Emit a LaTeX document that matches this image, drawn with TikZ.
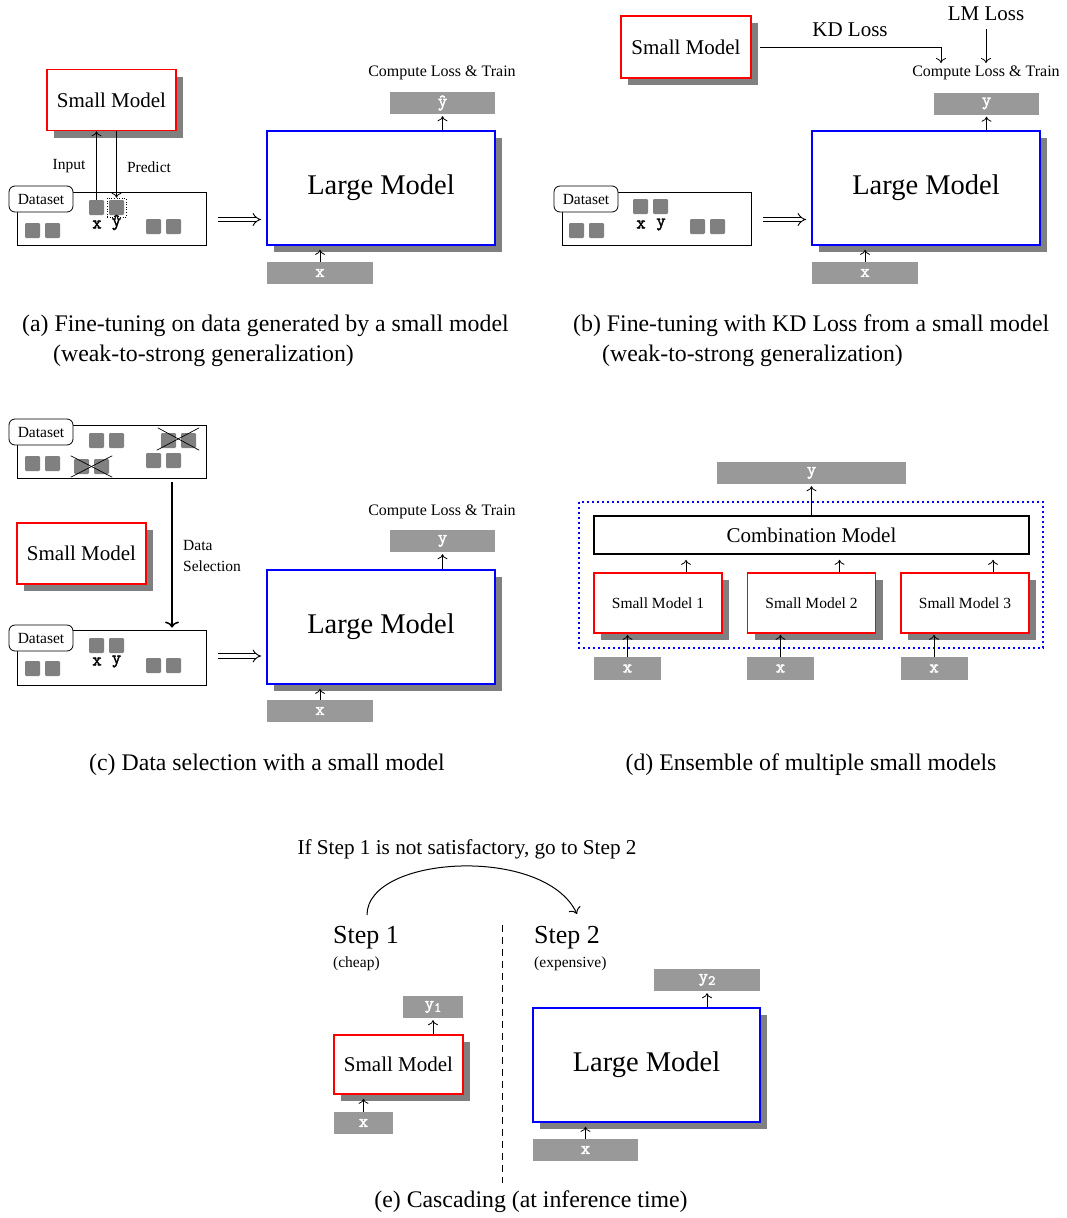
\documentclass[tikz,border=0pt]{standalone}
\usepackage{fontspec}
\setmainfont{Liberation Serif}
\newfontfamily\bmono{lmmono10-regular.otf}[FakeBold=2]
\usetikzlibrary{arrows.meta,shadows,calc}
\definecolor{boxgray}{gray}{0.6}
\definecolor{sqgray}{gray}{0.5}
\definecolor{shgray}{gray}{0.5}
\newcommand{\fsz}[1]{\fontsize{#1}{#1}\selectfont}
\tikzset{
  shad/.style={drop shadow={shadow xshift=7pt, shadow yshift=-7pt, fill=shgray, opacity=1}},
  smallm/.style={draw=red, line width=1.6pt, fill=white, shad, inner sep=0pt, font=\fsz{21}},
  smallmd/.style={draw=red, line width=1.6pt, fill=white, shad, inner sep=0pt, font=\fsz{15.5}, minimum width=128pt, minimum height=60pt},
  largem/.style={draw=blue, line width=1.6pt, fill=white, shad, minimum width=228pt, minimum height=114pt, inner sep=0pt, font=\fsz{28.5}},
  gbox/.style={fill=boxgray, inner sep=0pt, minimum height=22pt, text=white, font=\bmono\fsz{18}},
  sq/.style={fill=sqgray, rounded corners=1.2pt, minimum size=15pt, inner sep=0pt},
  dsbox/.style={draw, line width=0.8pt, minimum width=189pt, inner sep=0pt},
  dslabel/.style={draw, fill=white, rounded corners=6pt, line width=0.8pt, minimum width=64pt, minimum height=26pt, inner sep=0pt, font=\fsz{15.5}},
  lbl/.style={font=\fsz{15.5}, inner sep=0pt},
  biglbl/.style={font=\fsz{21}, inner sep=0pt},
  caplbl/.style={font=\fsz{23.8}, inner sep=0pt},
  blab/.style={font=\bmono\fsz{18}, inner sep=0pt},
  arr/.style={-{To[length=5pt,width=10pt]}, line width=0.8pt},
  bigarr/.style={-{To[length=6pt,width=14pt]}, line width=1.5pt},
  dbl/.style={double, double distance=3.6pt, line width=0.9pt, -{Implies}},
  cross/.style={line width=0.7pt},
}
\begin{document}
\begin{tikzpicture}[x=1pt,y=-1pt]
\useasboundingbox (0,0) rectangle (1066,1218);

% ================= (a) =================
\node[smallm, minimum width=129pt, minimum height=61pt] (smA) at (111.5,100) {Small Model};
\node[dsbox, minimum height=53pt] (dsA) at (111.5,218.5) {};
\node[dslabel] (dlA) at (41,199) {Dataset};
\node[sq] (a1) at (32.5,230.5) {};
\node[sq] (a2) at (52.5,230.5) {};
\node[sq] (ax) at (96.5,207.5) {};
\node[sq] (ay) at (116.5,207.5) {};
\node[sq] (a5) at (153.5,226.5) {};
\node[sq] (a6) at (173.5,226.5) {};
\node[draw, dotted, line width=0.6pt, minimum size=19pt, inner sep=0pt] (aydot) at (116.5,207.5) {};
\node[blab] (axl) at (97,224.5) {x};
\node[blab] (ayl) at (116.5,222.5) {\^{y}};
\draw[arr] (ax.north) -- (ax.north |- smA.south);
\draw[arr] (aydot.north |- smA.south) -- (aydot.north);
\node[lbl] (inA) at (69,166) {Input};
\node[lbl] (prA) at (149,167) {Predict};
\node[largem] (lmA) at (381,188) {Large Model};
\node[gbox, minimum width=106pt] (xA) at (320,273) {x};
\node[gbox, minimum width=105pt] (yA) at (442.5,103) {\^{y}};
\node[lbl, font=\fsz{16}] (clA) at (442,73) {Compute Loss \& Train};
\draw[arr] (xA.north) -- ([yshift=-4pt]xA.north |- lmA.south);
\draw[arr] (lmA.north -| yA.south) -- ([yshift=-2pt]yA.south);
\draw[dbl] ([xshift=12pt,yshift=-1pt]dsA.east) -- ([xshift=-5pt,yshift=-1pt]dsA.east -| lmA.west);

% ================= (b) =================
\node[smallm, minimum width=130pt, minimum height=62pt] (smB) at (686,47) {Small Model};
\node[dsbox, minimum height=53pt] (dsB) at (656.5,218.5) {};
\node[dslabel] (dlB) at (586,199) {Dataset};
\node[sq] (b1) at (576.5,230.5) {};
\node[sq] (b2) at (596.5,230.5) {};
\node[sq] (bx) at (640.5,206.5) {};
\node[sq] (by) at (660.5,206.5) {};
\node[sq] (b5) at (697.5,226.5) {};
\node[sq] (b6) at (717.5,226.5) {};
\node[blab] (bxl) at (641,224.5) {x};
\node[blab] (byl) at (661,224.5) {y};
\node[largem] (lmB) at (926,188) {Large Model};
\node[gbox, minimum width=106pt] (xB) at (865,273) {x};
\node[gbox, minimum width=105pt] (yB) at (986.5,103.5) {y};
\node[lbl, font=\fsz{16}] (clB) at (986,73) {Compute Loss \& Train};
\node[biglbl] (kdB) at (850,30) {KD Loss};
\node[biglbl] (lmlB) at (986,14) {LM Loss};
\coordinate (kdend) at (941,63);
\draw[arr] ([xshift=8pt]smB.east) -| (kdend);
\draw[arr] ([yshift=-8pt]lmlB.south) -- (lmlB.south |- kdend);
\draw[arr] (xB.north) -- ([yshift=-4pt]xB.north |- lmB.south);
\draw[arr] (lmB.north -| yB.south) -- ([yshift=-2pt]yB.south);
\draw[dbl] ([xshift=12pt,yshift=-1pt]dsB.east) -- ([xshift=-5pt,yshift=-1pt]dsB.east -| lmB.west);

% ================= (c) =================
\node[dsbox, minimum height=53pt] (dsC1) at (111.5,451.5) {};
\node[dslabel] (dlC1) at (41,432) {Dataset};
\node[sq] (c1) at (96.5,440.5) {};
\node[sq] (c2) at (116.5,440.5) {};
\node[sq] (cx1) at (168.5,440.5) {};
\node[sq] (cx2) at (188.5,440.5) {};
\node[sq] (c5) at (153.5,460.5) {};
\node[sq] (c6) at (173.5,460.5) {};
\node[sq] (c7) at (32.5,463.5) {};
\node[sq] (c8) at (52.5,463.5) {};
\node[sq] (cb1) at (81.5,466.5) {};
\node[sq] (cb2) at (101.5,466.5) {};
\draw[cross] ([shift={(-3,-5)}]cx1.north west) -- ([shift={(3,2)}]cx2.south east);
\draw[cross] ([shift={(-4,2)}]cx1.south west) -- ([shift={(3,-5)}]cx2.north east);
\draw[cross] ([shift={(-3,-3)}]cb1.north west) -- ([shift={(3,3)}]cb2.south east);
\draw[cross] ([shift={(-3,3)}]cb1.south west) -- ([shift={(3,-3)}]cb2.north east);
\node[smallm, minimum width=129pt, minimum height=61pt] (smC) at (81.5,553.5) {Small Model};
\node[dsbox, minimum height=55pt] (dsC2) at (111.5,657.5) {};
\node[dslabel] (dlC2) at (41,638) {Dataset};
\node[sq] (d1) at (96.5,645.5) {};
\node[sq] (d2) at (116.5,645.5) {};
\node[sq] (d3) at (32.5,668.5) {};
\node[sq] (d4) at (52.5,668.5) {};
\node[sq] (d5) at (153.5,665.5) {};
\node[sq] (d6) at (173.5,665.5) {};
\node[blab] (cxl) at (97,661.5) {x};
\node[blab] (cyl) at (116.5,661.5) {y};
\draw[bigarr] ([shift={(60.5,4)}]dsC1.south) -- ([shift={(60.5,-2)}]dsC2.north);
\node[lbl, align=left, anchor=west, font=\fontsize{15.5}{21}\selectfont] (dsel) at (183,555.5) {Data\\Selection};
\node[largem] (lmC) at (381,627) {Large Model};
\node[gbox, minimum width=106pt] (xC) at (320,711) {x};
\node[gbox, minimum width=105pt] (yC) at (442.5,541) {y};
\node[lbl, font=\fsz{16}] (clC) at (442,512) {Compute Loss \& Train};
\draw[arr] (xC.north) -- ([yshift=-4pt]xC.north |- lmC.south);
\draw[arr] (lmC.north -| yC.south) -- ([yshift=-2pt]yC.south);
\draw[dbl] ([xshift=12pt,yshift=1.5pt]dsC2.east) -- ([xshift=-5pt,yshift=1.5pt]dsC2.east -| lmC.west);

% ================= (d) =================
\draw[blue, line width=1.8pt, dash pattern=on 1.8pt off 3.2pt] (579,502) rectangle (1043,648);
\node[gbox, minimum width=189pt] (yD) at (811.5,473) {y};
\node[draw, line width=1.6pt, fill=white, minimum width=435pt, minimum height=38pt, inner sep=0pt, font=\fsz{21}] (comb) at (811.5,535) {Combination Model};
\node[smallmd] (sd1) at (658,603) {Small Model 1};
\node[smallmd] (sd2) at (811.5,603) {Small Model 2};
\node[smallmd] (sd3) at (965,603) {Small Model 3};
\node[gbox, minimum width=67pt, minimum height=23pt] (xd1) at (627.5,668.5) {x};
\node[gbox, minimum width=67pt, minimum height=23pt] (xd2) at (780.5,668.5) {x};
\node[gbox, minimum width=67pt, minimum height=23pt] (xd3) at (934,668.5) {x};
\foreach \i in {1,2,3}{
  \draw[arr] (xd\i.north) -- ([yshift=-1pt]xd\i.north |- sd\i.south);
  \draw[arr] ([xshift=28pt]sd\i.north) -- ([xshift=28pt,yshift=-5pt]sd\i.north |- comb.south);
}
\draw[arr] (comb.north -| yD.south) -- ([yshift=-2pt]yD.south);

% ================= (e) =================
\node[font=\fsz{26}, anchor=west, inner sep=0pt] (st1) at (333,938) {Step 1};
\node[font=\fsz{15.5}, anchor=west, inner sep=0pt] (ch1) at (333,964) {(cheap)};
\node[font=\fsz{26}, anchor=west, inner sep=0pt] (st2) at (534,938) {Step 2};
\node[font=\fsz{15.5}, anchor=west, inner sep=0pt] (ch2) at (534,964) {(expensive)};
\coordinate (dtop) at (502,925);
\coordinate (dbot) at (502,1183);
\draw[line width=0.8pt, dash pattern=on 7pt off 5pt] (dtop) -- (dbot);
\node[biglbl, font=\fsz{21.2}] (ifs) at (467,849) {If Step 1 is not satisfactory, go to Step 2};
\coordinate (cs) at (367,915);
\coordinate (ce) at (577,914);
\draw[-{To[length=6pt,width=13pt]}, line width=1pt] (cs) .. controls (367,855) and (545,845) .. (ce);
\node[smallm, minimum width=129pt, minimum height=59pt] (smE) at (398.5,1064.5) {Small Model};
\node[gbox, minimum width=60pt] (yE1) at (433,1007) {y\raisebox{-3pt}{\fsz{14}1}};
\node[gbox, minimum width=59pt] (xE1) at (363.5,1123) {x};
\draw[arr] (xE1.north) -- ([yshift=-4pt]xE1.north |- smE.south);
\draw[arr] (smE.north -| yE1.south) -- ([yshift=-2pt]yE1.south);
\node[largem, minimum width=227pt] (lmE) at (646.5,1065) {Large Model};
\node[gbox, minimum width=106pt] (yE2) at (707,980) {y\raisebox{-3pt}{\fsz{14}2}};
\node[gbox, minimum width=105pt] (xE2) at (585.5,1150) {x};
\draw[arr] (xE2.north) -- ([yshift=-4pt]xE2.north |- lmE.south);
\draw[arr] (lmE.north -| yE2.south) -- ([yshift=-2pt]yE2.south);

% ================= captions =================
\node[caplbl, anchor=west] (capA1) at (22,326) {(a) Fine-tuning on data generated by a small model};
\node[caplbl, anchor=west] (capA2) at (53,356) {(weak-to-strong generalization)};
\node[caplbl, anchor=west] (capB1) at (573,326) {(b) Fine-tuning with KD Loss from a small model};
\node[caplbl, anchor=west] (capB2) at (602,356) {(weak-to-strong generalization)};
\node[caplbl] (capC) at (267,765) {(c) Data selection with a small model};
\node[caplbl] (capD) at (811,765) {(d) Ensemble of multiple small models};
\node[caplbl] (capE) at (531,1202) {(e) Cascading (at inference time)};
\end{tikzpicture}
\end{document}
